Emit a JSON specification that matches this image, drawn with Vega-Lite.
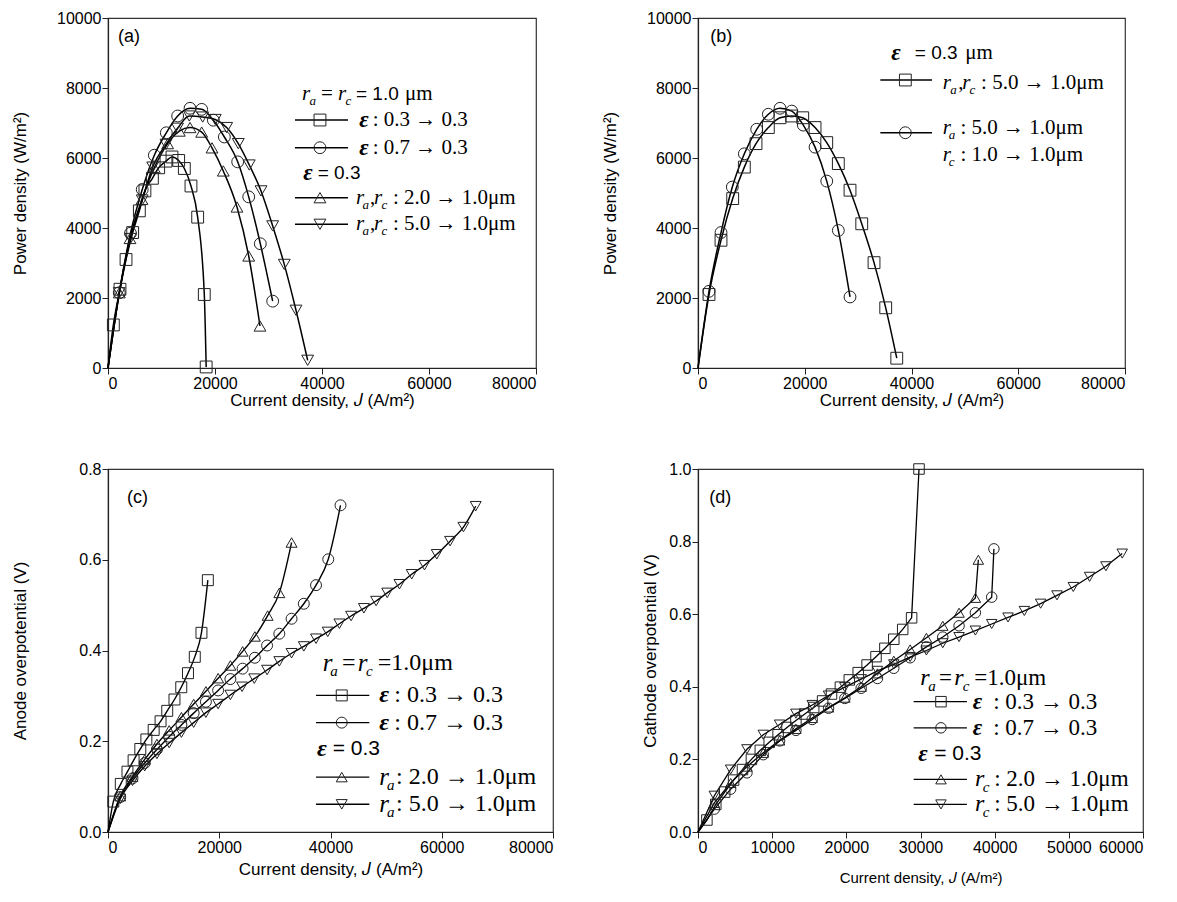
{
"$schema": "https://vega.github.io/schema/vega-lite/v6.json",
"background": "white",
"padding": {"left": 10, "top": 9, "right": 5, "bottom": 5},
"columns": 2,
"spacing": {"row": 101, "column": 145},
"bounds": "flush",
"config": {
  "view": {"stroke": "#333", "strokeWidth": 1.2},
  "axis": {"domainColor": "#222", "domainWidth": 1.2, "tickColor": "#222", "tickSize": 6, "labelPadding": 1, "labelFont": "Liberation Sans", "labelFontSize": 16, "labelColor": "#000", "titleFont": "Liberation Sans", "titleFontSize": 17, "titleFontWeight": "normal", "titleColor": "#000", "grid": false}
},
"datasets": {
  "a": [
    {"s":"sq","J":0,"v":0},{"s":"sq","J":1000,"v":1230},{"s":"sq","J":2240,"v":2250},{"s":"sq","J":3370,"v":3100},{"s":"sq","J":4610,"v":3870},{"s":"sq","J":5860,"v":4490},{"s":"sq","J":6900,"v":5060},{"s":"sq","J":8300,"v":5420},{"s":"sq","J":9470,"v":5720},{"s":"sq","J":10840,"v":5910},{"s":"sq","J":11960,"v":6030},{"s":"sq","J":13210,"v":5930},{"s":"sq","J":14270,"v":5700},{"s":"sq","J":15510,"v":5200},{"s":"sq","J":16760,"v":4310},{"s":"sq","J":18000,"v":2100},{"s":"sq","J":18350,"v":30},
    {"s":"ci","J":0,"v":0},{"s":"ci","J":2110,"v":2150},{"s":"ci","J":4200,"v":3850},{"s":"ci","J":6400,"v":5100},{"s":"ci","J":8660,"v":6080},{"s":"ci","J":10900,"v":6720},{"s":"ci","J":13020,"v":7200},{"s":"ci","J":15330,"v":7420},{"s":"ci","J":17510,"v":7390},{"s":"ci","J":19690,"v":7080},{"s":"ci","J":21750,"v":6600},{"s":"ci","J":24240,"v":5890},{"s":"ci","J":26300,"v":4890},{"s":"ci","J":28470,"v":3550},{"s":"ci","J":30780,"v":1910},
    {"s":"tu","J":0,"v":0},{"s":"tu","J":2110,"v":2150},{"s":"tu","J":4110,"v":3700},{"s":"tu","J":6350,"v":4820},{"s":"tu","J":8660,"v":5720},{"s":"tu","J":11150,"v":6410},{"s":"tu","J":13330,"v":6770},{"s":"tu","J":15330,"v":6870},{"s":"tu","J":17510,"v":6740},{"s":"tu","J":19440,"v":6290},{"s":"tu","J":21550,"v":5630},{"s":"tu","J":24110,"v":4600},{"s":"tu","J":26300,"v":3200},{"s":"tu","J":28410,"v":1200},
    {"s":"td","J":0,"v":0},{"s":"td","J":2110,"v":2150},{"s":"td","J":4200,"v":3700},{"s":"td","J":6400,"v":4800},{"s":"td","J":8350,"v":5740},{"s":"td","J":10840,"v":6390},{"s":"td","J":13000,"v":6850},{"s":"td","J":15200,"v":7200},{"s":"td","J":17700,"v":7170},{"s":"td","J":20050,"v":7100},{"s":"td","J":22180,"v":6870},{"s":"td","J":24350,"v":6410},{"s":"td","J":26410,"v":5800},{"s":"td","J":28600,"v":5060},{"s":"td","J":30780,"v":4060},{"s":"td","J":32950,"v":2960},{"s":"td","J":35140,"v":1650},{"s":"td","J":37320,"v":220}
  ],
  "aL": [
    {"s":"sq","J":34950,"v":7085,"m":0},{"s":"sq","J":39620,"v":7085,"m":1},{"s":"sq","J":44860,"v":7085,"m":0},
    {"s":"ci","J":34950,"v":6294,"m":0},{"s":"ci","J":39620,"v":6294,"m":1},{"s":"ci","J":44860,"v":6294,"m":0},
    {"s":"tu","J":34950,"v":4866,"m":0},{"s":"tu","J":39620,"v":4866,"m":1},{"s":"tu","J":44860,"v":4866,"m":0},
    {"s":"td","J":34950,"v":4106,"m":0},{"s":"td","J":39620,"v":4106,"m":1},{"s":"td","J":44860,"v":4106,"m":0}
  ],
  "aT": [
    {"k":"it","t":"r","J":36260,"v":7820},{"k":"sub","t":"a","J":37660,"v":7820},{"k":"rm","t":"=","J":39810,"v":7820},{"k":"it","t":"r","J":42990,"v":7820},{"k":"sub","t":"c","J":44390,"v":7820},{"k":"sf","t":"= 1.0","J":46350,"v":7820},{"k":"rm","t":"μm","J":55510,"v":7820},
    {"k":"eps","t":"ε","J":46970,"v":7085},{"k":"rm","t":": 0.3 → 0.3","J":49470,"v":7085},
    {"k":"eps","t":"ε","J":46970,"v":6294},{"k":"rm","t":": 0.7 → 0.3","J":49470,"v":6294},
    {"k":"eps","t":"ε","J":36500,"v":5580},{"k":"sf","t":"= 0.3","J":39190,"v":5580},
    {"k":"it","t":"r","J":46350,"v":4866},{"k":"sub","t":"a","J":47570,"v":4866},{"k":"rm","t":",","J":48970,"v":4866},{"k":"it","t":"r","J":49710,"v":4866},{"k":"sub","t":"c","J":51120,"v":4866},{"k":"rm","t":": 2.0 → 1.0μm","J":53270,"v":4866},
    {"k":"it","t":"r","J":46350,"v":4106},{"k":"sub","t":"a","J":47570,"v":4106},{"k":"rm","t":",","J":48970,"v":4106},{"k":"it","t":"r","J":49710,"v":4106},{"k":"sub","t":"c","J":51120,"v":4106},{"k":"rm","t":": 5.0 → 1.0μm","J":53270,"v":4106},
    {"k":"lab","t":"(a)","J":1870,"v":9470}
  ],
  "b": [
    {"s":"sq","J":0,"v":0},{"s":"sq","J":2060,"v":2100},{"s":"sq","J":4310,"v":3650},{"s":"sq","J":6500,"v":4840},{"s":"sq","J":8680,"v":5740},{"s":"sq","J":10870,"v":6410},{"s":"sq","J":13180,"v":6870},{"s":"sq","J":15370,"v":7150},{"s":"sq","J":17560,"v":7200},{"s":"sq","J":19620,"v":7150},{"s":"sq","J":21930,"v":6870},{"s":"sq","J":24120,"v":6440},{"s":"sq","J":26290,"v":5840},{"s":"sq","J":28480,"v":5080},{"s":"sq","J":30680,"v":4120},{"s":"sq","J":32980,"v":3010},{"s":"sq","J":35170,"v":1720},{"s":"sq","J":37240,"v":280},
    {"s":"ci","J":0,"v":0},{"s":"ci","J":2060,"v":2190},{"s":"ci","J":4310,"v":3870},{"s":"ci","J":6430,"v":5170},{"s":"ci","J":8680,"v":6120},{"s":"ci","J":11000,"v":6820},{"s":"ci","J":13180,"v":7250},{"s":"ci","J":15370,"v":7420},{"s":"ci","J":17560,"v":7340},{"s":"ci","J":19730,"v":6940},{"s":"ci","J":21930,"v":6310},{"s":"ci","J":24120,"v":5340},{"s":"ci","J":26290,"v":3930},{"s":"ci","J":28480,"v":2030}
  ],
  "bL": [
    {"s":"sq","J":34160,"v":8228,"m":0},{"s":"sq","J":38850,"v":8228,"m":1},{"s":"sq","J":43850,"v":8228,"m":0},
    {"s":"ci","J":34160,"v":6722,"m":0},{"s":"ci","J":38850,"v":6722,"m":1},{"s":"ci","J":43850,"v":6722,"m":0}
  ],
  "bT": [
    {"k":"eps","t":"ε","J":36220,"v":9008},{"k":"sf","t":"= 0.3","J":40610,"v":9008},{"k":"rm","t":"μm","J":50090,"v":9008},
    {"k":"it","t":"r","J":45850,"v":8150},{"k":"sub","t":"a","J":47280,"v":8150},{"k":"rm","t":",","J":48780,"v":8150},{"k":"it","t":"r","J":49530,"v":8150},{"k":"sub","t":"c","J":50880,"v":8150},{"k":"rm","t":": 5.0 → 1.0μm","J":53030,"v":8150},
    {"k":"it","t":"r","J":45850,"v":6865},{"k":"sub","t":"a","J":46980,"v":6865},{"k":"rm","t":": 5.0 → 1.0μm","J":49160,"v":6865},
    {"k":"it","t":"r","J":45850,"v":6085},{"k":"sub","t":"c","J":46980,"v":6085},{"k":"rm","t":": 1.0 → 1.0μm","J":49160,"v":6085},
    {"k":"lab","t":"(b)","J":2310,"v":9470}
  ],
  "c": [
    {"s":"sq","J":0,"v":0},{"s":"sq","J":960,"v":0.067},{"s":"sq","J":2300,"v":0.106},{"s":"sq","J":3500,"v":0.133},{"s":"sq","J":4600,"v":0.158},{"s":"sq","J":5810,"v":0.183},{"s":"sq","J":6900,"v":0.204},{"s":"sq","J":8210,"v":0.225},{"s":"sq","J":9450,"v":0.244},{"s":"sq","J":10650,"v":0.267},{"s":"sq","J":11950,"v":0.292},{"s":"sq","J":13170,"v":0.319},{"s":"sq","J":14380,"v":0.35},{"s":"sq","J":15600,"v":0.386},{"s":"sq","J":16800,"v":0.439},{"s":"sq","J":17950,"v":0.555},
    {"s":"ci","J":0,"v":0},{"s":"ci","J":2200,"v":0.077},{"s":"ci","J":4400,"v":0.118},{"s":"ci","J":6600,"v":0.152},{"s":"ci","J":8800,"v":0.182},{"s":"ci","J":11000,"v":0.21},{"s":"ci","J":13200,"v":0.236},{"s":"ci","J":15400,"v":0.262},{"s":"ci","J":17600,"v":0.287},{"s":"ci","J":19800,"v":0.312},{"s":"ci","J":22000,"v":0.337},{"s":"ci","J":24200,"v":0.36},{"s":"ci","J":26400,"v":0.384},{"s":"ci","J":28600,"v":0.411},{"s":"ci","J":30800,"v":0.437},{"s":"ci","J":33000,"v":0.47},{"s":"ci","J":35200,"v":0.503},{"s":"ci","J":37400,"v":0.544},{"s":"ci","J":39600,"v":0.601},{"s":"ci","J":41800,"v":0.72},
    {"s":"tu","J":0,"v":0},{"s":"tu","J":2200,"v":0.079},{"s":"tu","J":4400,"v":0.122},{"s":"tu","J":6600,"v":0.16},{"s":"tu","J":8800,"v":0.194},{"s":"tu","J":11000,"v":0.224},{"s":"tu","J":13200,"v":0.253},{"s":"tu","J":15400,"v":0.282},{"s":"tu","J":17600,"v":0.31},{"s":"tu","J":19800,"v":0.339},{"s":"tu","J":22000,"v":0.367},{"s":"tu","J":24200,"v":0.398},{"s":"tu","J":26400,"v":0.431},{"s":"tu","J":28700,"v":0.477},{"s":"tu","J":30800,"v":0.527},{"s":"tu","J":33000,"v":0.638},
    {"s":"td","J":0,"v":0},{"s":"td","J":2200,"v":0.073},{"s":"td","J":4400,"v":0.113},{"s":"td","J":6600,"v":0.145},{"s":"td","J":8800,"v":0.172},{"s":"td","J":11000,"v":0.196},{"s":"td","J":13200,"v":0.219},{"s":"td","J":15400,"v":0.241},{"s":"td","J":17600,"v":0.263},{"s":"td","J":19800,"v":0.282},{"s":"td","J":22000,"v":0.302},{"s":"td","J":24100,"v":0.32},{"s":"td","J":26300,"v":0.338},{"s":"td","J":28600,"v":0.357},{"s":"td","J":30800,"v":0.376},{"s":"td","J":33000,"v":0.394},{"s":"td","J":35200,"v":0.409},{"s":"td","J":37400,"v":0.426},{"s":"td","J":39500,"v":0.441},{"s":"td","J":41600,"v":0.459},{"s":"td","J":43700,"v":0.476},{"s":"td","J":46000,"v":0.493},{"s":"td","J":48200,"v":0.509},{"s":"td","J":50200,"v":0.527},{"s":"td","J":52400,"v":0.546},{"s":"td","J":54600,"v":0.568},{"s":"td","J":56900,"v":0.588},{"s":"td","J":59100,"v":0.612},{"s":"td","J":61500,"v":0.641},{"s":"td","J":63900,"v":0.672},{"s":"td","J":66100,"v":0.718}
  ],
  "cL": [
    {"s":"sq","J":37400,"v":0.301,"m":0},{"s":"sq","J":42020,"v":0.301,"m":1},{"s":"sq","J":46980,"v":0.301,"m":0},
    {"s":"ci","J":37400,"v":0.241,"m":0},{"s":"ci","J":42020,"v":0.241,"m":1},{"s":"ci","J":46980,"v":0.241,"m":0},
    {"s":"tu","J":37400,"v":0.121,"m":0},{"s":"tu","J":42020,"v":0.121,"m":1},{"s":"tu","J":46980,"v":0.121,"m":0},
    {"s":"td","J":37400,"v":0.061,"m":0},{"s":"td","J":42020,"v":0.061,"m":1},{"s":"td","J":46980,"v":0.061,"m":0}
  ],
  "cT": [
    {"k":"it","t":"r","J":38600,"v":0.373},{"k":"sub","t":"a","J":39970,"v":0.373},{"k":"rm","t":"=","J":42080,"v":0.373},{"k":"it","t":"r","J":44900,"v":0.373},{"k":"sub","t":"c","J":46390,"v":0.373},{"k":"rm","t":"=1.0μm","J":48490,"v":0.373},
    {"k":"eps","t":"ε","J":48780,"v":0.301},{"k":"rm","t":": 0.3 → 0.3","J":51480,"v":0.301},
    {"k":"eps","t":"ε","J":48780,"v":0.241},{"k":"rm","t":": 0.7 → 0.3","J":51480,"v":0.241},
    {"k":"eps","t":"ε","J":37580,"v":0.182},{"k":"sf","t":"= 0.3","J":40400,"v":0.182},
    {"k":"it","t":"r","J":48780,"v":0.121},{"k":"sub","t":"a","J":50160,"v":0.121},{"k":"rm","t":": 2.0 → 1.0μm","J":51780,"v":0.121},
    {"k":"it","t":"r","J":48780,"v":0.061},{"k":"sub","t":"a","J":50160,"v":0.061},{"k":"rm","t":": 5.0 → 1.0μm","J":51780,"v":0.061},
    {"k":"lab","t":"(c)","J":3420,"v":0.737}
  ],
  "d": [
    {"s":"sq","J":0,"v":0},{"s":"sq","J":1200,"v":0.033},{"s":"sq","J":2400,"v":0.076},{"s":"sq","J":3600,"v":0.11},{"s":"sq","J":4800,"v":0.143},{"s":"sq","J":6000,"v":0.172},{"s":"sq","J":7200,"v":0.2},{"s":"sq","J":8400,"v":0.225},{"s":"sq","J":9600,"v":0.247},{"s":"sq","J":10800,"v":0.268},{"s":"sq","J":12000,"v":0.288},{"s":"sq","J":13200,"v":0.307},{"s":"sq","J":14400,"v":0.325},{"s":"sq","J":15600,"v":0.343},{"s":"sq","J":16800,"v":0.361},{"s":"sq","J":18000,"v":0.38},{"s":"sq","J":19200,"v":0.399},{"s":"sq","J":20400,"v":0.419},{"s":"sq","J":21600,"v":0.439},{"s":"sq","J":22800,"v":0.46},{"s":"sq","J":24000,"v":0.483},{"s":"sq","J":25200,"v":0.506},{"s":"sq","J":26400,"v":0.531},{"s":"sq","J":27600,"v":0.558},{"s":"sq","J":28800,"v":0.59},{"s":"sq","J":29800,"v":1.0},
    {"s":"ci","J":0,"v":0},{"s":"ci","J":2200,"v":0.063},{"s":"ci","J":4400,"v":0.118},{"s":"ci","J":6600,"v":0.163},{"s":"ci","J":8800,"v":0.213},{"s":"ci","J":11000,"v":0.251},{"s":"ci","J":13200,"v":0.28},{"s":"ci","J":15400,"v":0.31},{"s":"ci","J":17600,"v":0.341},{"s":"ci","J":19800,"v":0.368},{"s":"ci","J":22000,"v":0.396},{"s":"ci","J":24200,"v":0.423},{"s":"ci","J":26400,"v":0.451},{"s":"ci","J":28600,"v":0.48},{"s":"ci","J":30800,"v":0.51},{"s":"ci","J":33000,"v":0.537},{"s":"ci","J":35200,"v":0.568},{"s":"ci","J":37400,"v":0.604},{"s":"ci","J":39600,"v":0.647},{"s":"ci","J":39900,"v":0.78},
    {"s":"tu","J":0,"v":0},{"s":"tu","J":2200,"v":0.08},{"s":"tu","J":4400,"v":0.135},{"s":"tu","J":6600,"v":0.18},{"s":"tu","J":8800,"v":0.218},{"s":"tu","J":11000,"v":0.252},{"s":"tu","J":13200,"v":0.284},{"s":"tu","J":15400,"v":0.314},{"s":"tu","J":17600,"v":0.343},{"s":"tu","J":19800,"v":0.37},{"s":"tu","J":22000,"v":0.4},{"s":"tu","J":24200,"v":0.437},{"s":"tu","J":26400,"v":0.472},{"s":"tu","J":28600,"v":0.503},{"s":"tu","J":30800,"v":0.535},{"s":"tu","J":33000,"v":0.568},{"s":"tu","J":35200,"v":0.604},{"s":"tu","J":37400,"v":0.645},{"s":"tu","J":37800,"v":0.75},
    {"s":"td","J":0,"v":0},{"s":"td","J":2200,"v":0.1},{"s":"td","J":4400,"v":0.172},{"s":"td","J":6600,"v":0.228},{"s":"td","J":8800,"v":0.268},{"s":"td","J":11000,"v":0.296},{"s":"td","J":13200,"v":0.326},{"s":"td","J":15400,"v":0.35},{"s":"td","J":17600,"v":0.376},{"s":"td","J":19800,"v":0.399},{"s":"td","J":22000,"v":0.421},{"s":"td","J":24200,"v":0.444},{"s":"td","J":26400,"v":0.462},{"s":"td","J":28600,"v":0.482},{"s":"td","J":30800,"v":0.5},{"s":"td","J":33000,"v":0.52},{"s":"td","J":35200,"v":0.537},{"s":"td","J":37400,"v":0.555},{"s":"td","J":39600,"v":0.573},{"s":"td","J":41800,"v":0.591},{"s":"td","J":44000,"v":0.609},{"s":"td","J":46200,"v":0.629},{"s":"td","J":48400,"v":0.652},{"s":"td","J":50600,"v":0.675},{"s":"td","J":52800,"v":0.703},{"s":"td","J":55000,"v":0.732},{"s":"td","J":57200,"v":0.767}
  ],
  "dL": [
    {"s":"sq","J":29080,"v":0.359,"m":0},{"s":"sq","J":32760,"v":0.359,"m":1},{"s":"sq","J":36260,"v":0.359,"m":0},
    {"s":"ci","J":29080,"v":0.287,"m":0},{"s":"ci","J":32760,"v":0.287,"m":1},{"s":"ci","J":36260,"v":0.287,"m":0},
    {"s":"tu","J":29080,"v":0.145,"m":0},{"s":"tu","J":32760,"v":0.145,"m":1},{"s":"tu","J":36260,"v":0.145,"m":0},
    {"s":"td","J":29080,"v":0.076,"m":0},{"s":"td","J":32760,"v":0.076,"m":1},{"s":"td","J":36260,"v":0.076,"m":0}
  ],
  "dT": [
    {"k":"it","t":"r","J":29970,"v":0.425},{"k":"sub","t":"a","J":31050,"v":0.425},{"k":"rm","t":"=","J":32490,"v":0.425},{"k":"it","t":"r","J":34550,"v":0.425},{"k":"sub","t":"c","J":35680,"v":0.425},{"k":"rm","t":"=1.0μm","J":37250,"v":0.425},
    {"k":"eps","t":"ε","J":37050,"v":0.359},{"k":"rm","t":": 0.3 → 0.3","J":39800,"v":0.359},
    {"k":"eps","t":"ε","J":37050,"v":0.287},{"k":"rm","t":": 0.7 → 0.3","J":39800,"v":0.287},
    {"k":"eps","t":"ε","J":29700,"v":0.214},{"k":"sf","t":"= 0.3","J":31850,"v":0.214},
    {"k":"it","t":"r","J":37340,"v":0.145},{"k":"sub","t":"c","J":38380,"v":0.145},{"k":"rm","t":": 2.0 → 1.0μm","J":39940,"v":0.145},
    {"k":"it","t":"r","J":37340,"v":0.076},{"k":"sub","t":"c","J":38380,"v":0.076},{"k":"rm","t":": 5.0 → 1.0μm","J":39940,"v":0.076},
    {"k":"lab","t":"(d)","J":1520,"v":0.921}
  ]
},
"concat": [
  {
    "width": 428, "height": 350,
    "encoding": {
      "x": {"field": "J", "type": "quantitative", "scale": {"domain": [0, 80000], "nice": false}, "axis": {"title": "Current density, 𝐽 (A/m²)", "values": [0, 20000, 40000, 60000, 80000], "format": "d", "titleY": 32, "titleBaseline": "middle"}},
      "y": {"field": "v", "type": "quantitative", "scale": {"domain": [0, 10000], "nice": false}, "axis": {"title": "Power density (W/m²)", "values": [0, 2000, 4000, 6000, 8000, 10000], "format": "d", "titleX": -88, "titleBaseline": "middle"}}
    },
    "layer": [
      {"data": {"name": "a"}, "mark": {"type": "line", "interpolate": "monotone", "color": "#000", "strokeWidth": 1.5}, "encoding": {"detail": {"field": "s"}}},
      {"data": {"name": "a"}, "transform": [{"filter": "datum.J > 0"}], "mark": {"type": "point", "filled": false, "color": "#222", "size": 140, "strokeWidth": 1, "opacity": 1}, "encoding": {"shape": {"field": "s", "type": "nominal", "scale": {"domain": ["sq", "ci", "tu", "td"], "range": ["square", "circle", "triangle-up", "triangle-down"]}, "legend": null}}},
      {"data": {"name": "aL"}, "mark": {"type": "line", "color": "#000", "strokeWidth": 1.5}, "encoding": {"detail": {"field": "s"}}},
      {"data": {"name": "aL"}, "transform": [{"filter": "datum.m == 1"}], "mark": {"type": "point", "filled": false, "color": "#222", "size": 140, "strokeWidth": 1, "opacity": 1}, "encoding": {"shape": {"field": "s", "type": "nominal", "legend": null}}},
      {"data": {"name": "aT"}, "transform": [{"filter": "datum.k == 'it'"}], "mark": {"type": "text", "font": "Liberation Serif", "fontStyle": "italic", "fontSize": 21, "align": "left", "baseline": "middle", "color": "#000"}, "encoding": {"text": {"field": "t"}}},
      {"data": {"name": "aT"}, "transform": [{"filter": "datum.k == 'sub'"}], "mark": {"type": "text", "font": "Liberation Serif", "fontStyle": "italic", "fontSize": 13, "dy": 7, "align": "left", "baseline": "middle", "color": "#000"}, "encoding": {"text": {"field": "t"}}},
      {"data": {"name": "aT"}, "transform": [{"filter": "datum.k == 'rm'"}], "mark": {"type": "text", "font": "Liberation Serif", "fontSize": 21, "align": "left", "baseline": "middle", "color": "#000"}, "encoding": {"text": {"field": "t"}}},
      {"data": {"name": "aT"}, "transform": [{"filter": "datum.k == 'sf'"}], "mark": {"type": "text", "font": "Liberation Sans", "fontSize": 19, "align": "left", "baseline": "middle", "color": "#000"}, "encoding": {"text": {"field": "t"}}},
      {"data": {"name": "aT"}, "transform": [{"filter": "datum.k == 'eps'"}], "mark": {"type": "text", "font": "Liberation Serif", "fontStyle": "italic", "fontWeight": "bold", "fontSize": 23, "align": "left", "baseline": "middle", "color": "#000"}, "encoding": {"text": {"field": "t"}}},
      {"data": {"name": "aT"}, "transform": [{"filter": "datum.k == 'lab'"}], "mark": {"type": "text", "font": "Liberation Sans", "fontSize": 18, "align": "left", "baseline": "middle", "color": "#000"}, "encoding": {"text": {"field": "t"}}}
    ]
  },
  {
    "width": 427, "height": 350,
    "encoding": {
      "x": {"field": "J", "type": "quantitative", "scale": {"domain": [0, 80000], "nice": false}, "axis": {"title": "Current density, 𝐽 (A/m²)", "values": [0, 20000, 40000, 60000, 80000], "format": "d", "titleY": 32, "titleBaseline": "middle"}},
      "y": {"field": "v", "type": "quantitative", "scale": {"domain": [0, 10000], "nice": false}, "axis": {"title": "Power density (W/m²)", "values": [0, 2000, 4000, 6000, 8000, 10000], "format": "d", "titleX": -88, "titleBaseline": "middle"}}
    },
    "layer": [
      {"data": {"name": "b"}, "mark": {"type": "line", "interpolate": "monotone", "color": "#000", "strokeWidth": 1.5}, "encoding": {"detail": {"field": "s"}}},
      {"data": {"name": "b"}, "transform": [{"filter": "datum.J > 0"}], "mark": {"type": "point", "filled": false, "color": "#222", "size": 140, "strokeWidth": 1, "opacity": 1}, "encoding": {"shape": {"field": "s", "type": "nominal", "scale": {"domain": ["sq", "ci", "tu", "td"], "range": ["square", "circle", "triangle-up", "triangle-down"]}, "legend": null}}},
      {"data": {"name": "bL"}, "mark": {"type": "line", "color": "#000", "strokeWidth": 1.5}, "encoding": {"detail": {"field": "s"}}},
      {"data": {"name": "bL"}, "transform": [{"filter": "datum.m == 1"}], "mark": {"type": "point", "filled": false, "color": "#222", "size": 140, "strokeWidth": 1, "opacity": 1}, "encoding": {"shape": {"field": "s", "type": "nominal", "legend": null}}},
      {"data": {"name": "bT"}, "transform": [{"filter": "datum.k == 'it'"}], "mark": {"type": "text", "font": "Liberation Serif", "fontStyle": "italic", "fontSize": 21, "align": "left", "baseline": "middle", "color": "#000"}, "encoding": {"text": {"field": "t"}}},
      {"data": {"name": "bT"}, "transform": [{"filter": "datum.k == 'sub'"}], "mark": {"type": "text", "font": "Liberation Serif", "fontStyle": "italic", "fontSize": 13, "dy": 7, "align": "left", "baseline": "middle", "color": "#000"}, "encoding": {"text": {"field": "t"}}},
      {"data": {"name": "bT"}, "transform": [{"filter": "datum.k == 'rm'"}], "mark": {"type": "text", "font": "Liberation Serif", "fontSize": 21, "align": "left", "baseline": "middle", "color": "#000"}, "encoding": {"text": {"field": "t"}}},
      {"data": {"name": "bT"}, "transform": [{"filter": "datum.k == 'sf'"}], "mark": {"type": "text", "font": "Liberation Sans", "fontSize": 19, "align": "left", "baseline": "middle", "color": "#000"}, "encoding": {"text": {"field": "t"}}},
      {"data": {"name": "bT"}, "transform": [{"filter": "datum.k == 'eps'"}], "mark": {"type": "text", "font": "Liberation Serif", "fontStyle": "italic", "fontWeight": "bold", "fontSize": 23, "align": "left", "baseline": "middle", "color": "#000"}, "encoding": {"text": {"field": "t"}}},
      {"data": {"name": "bT"}, "transform": [{"filter": "datum.k == 'lab'"}], "mark": {"type": "text", "font": "Liberation Sans", "fontSize": 18, "align": "left", "baseline": "middle", "color": "#000"}, "encoding": {"text": {"field": "t"}}}
    ]
  },
  {
    "width": 445, "height": 363,
    "encoding": {
      "x": {"field": "J", "type": "quantitative", "scale": {"domain": [0, 80000], "nice": false}, "axis": {"title": "Current density, 𝐽 (A/m²)", "values": [0, 20000, 40000, 60000, 80000], "format": "d", "titleY": 37, "titleBaseline": "middle"}},
      "y": {"field": "v", "type": "quantitative", "scale": {"domain": [0, 0.8], "nice": false}, "axis": {"title": "Anode overpotential (V)", "values": [0, 0.2, 0.4, 0.6, 0.8], "format": ".1f", "titleX": -88, "titleBaseline": "middle"}}
    },
    "layer": [
      {"data": {"name": "c"}, "mark": {"type": "line", "interpolate": "monotone", "color": "#000", "strokeWidth": 1.4}, "encoding": {"detail": {"field": "s"}}},
      {"data": {"name": "c"}, "transform": [{"filter": "datum.J > 0"}], "mark": {"type": "point", "filled": false, "color": "#222", "size": 120, "strokeWidth": 1, "opacity": 1}, "encoding": {"shape": {"field": "s", "type": "nominal", "scale": {"domain": ["sq", "ci", "tu", "td"], "range": ["square", "circle", "triangle-up", "triangle-down"]}, "legend": null}}},
      {"data": {"name": "cL"}, "mark": {"type": "line", "color": "#000", "strokeWidth": 1.4}, "encoding": {"detail": {"field": "s"}}},
      {"data": {"name": "cL"}, "transform": [{"filter": "datum.m == 1"}], "mark": {"type": "point", "filled": false, "color": "#222", "size": 120, "strokeWidth": 1, "opacity": 1}, "encoding": {"shape": {"field": "s", "type": "nominal", "legend": null}}},
      {"data": {"name": "cT"}, "transform": [{"filter": "datum.k == 'it'"}], "mark": {"type": "text", "font": "Liberation Serif", "fontStyle": "italic", "fontSize": 25, "align": "left", "baseline": "middle", "color": "#000"}, "encoding": {"text": {"field": "t"}}},
      {"data": {"name": "cT"}, "transform": [{"filter": "datum.k == 'sub'"}], "mark": {"type": "text", "font": "Liberation Serif", "fontStyle": "italic", "fontSize": 15, "dy": 8, "align": "left", "baseline": "middle", "color": "#000"}, "encoding": {"text": {"field": "t"}}},
      {"data": {"name": "cT"}, "transform": [{"filter": "datum.k == 'rm'"}], "mark": {"type": "text", "font": "Liberation Serif", "fontSize": 24, "align": "left", "baseline": "middle", "color": "#000"}, "encoding": {"text": {"field": "t"}}},
      {"data": {"name": "cT"}, "transform": [{"filter": "datum.k == 'sf'"}], "mark": {"type": "text", "font": "Liberation Sans", "fontSize": 21, "align": "left", "baseline": "middle", "color": "#000"}, "encoding": {"text": {"field": "t"}}},
      {"data": {"name": "cT"}, "transform": [{"filter": "datum.k == 'eps'"}], "mark": {"type": "text", "font": "Liberation Serif", "fontStyle": "italic", "fontWeight": "bold", "fontSize": 24, "align": "left", "baseline": "middle", "color": "#000"}, "encoding": {"text": {"field": "t"}}},
      {"data": {"name": "cT"}, "transform": [{"filter": "datum.k == 'lab'"}], "mark": {"type": "text", "font": "Liberation Sans", "fontSize": 18, "align": "left", "baseline": "middle", "color": "#000"}, "encoding": {"text": {"field": "t"}}}
    ]
  },
  {
    "width": 445, "height": 363,
    "encoding": {
      "x": {"field": "J", "type": "quantitative", "scale": {"domain": [0, 60000], "nice": false}, "axis": {"title": "Current density, 𝐽 (A/m²)", "titleFontSize": 15, "values": [0, 10000, 20000, 30000, 40000, 50000, 60000], "format": "d", "titleY": 45, "titleBaseline": "middle"}},
      "y": {"field": "v", "type": "quantitative", "scale": {"domain": [0, 1], "nice": false}, "axis": {"title": "Cathode overpotential (V)", "values": [0, 0.2, 0.4, 0.6, 0.8, 1.0], "format": ".1f", "titleX": -48, "titleBaseline": "middle"}}
    },
    "layer": [
      {"data": {"name": "d"}, "mark": {"type": "line", "color": "#000", "strokeWidth": 1.3}, "encoding": {"detail": {"field": "s"}}},
      {"data": {"name": "d"}, "transform": [{"filter": "datum.J > 0"}], "mark": {"type": "point", "filled": false, "color": "#222", "size": 110, "strokeWidth": 1, "opacity": 1}, "encoding": {"shape": {"field": "s", "type": "nominal", "scale": {"domain": ["sq", "ci", "tu", "td"], "range": ["square", "circle", "triangle-up", "triangle-down"]}, "legend": null}}},
      {"data": {"name": "dL"}, "mark": {"type": "line", "color": "#000", "strokeWidth": 1.3}, "encoding": {"detail": {"field": "s"}}},
      {"data": {"name": "dL"}, "transform": [{"filter": "datum.m == 1"}], "mark": {"type": "point", "filled": false, "color": "#222", "size": 110, "strokeWidth": 1, "opacity": 1}, "encoding": {"shape": {"field": "s", "type": "nominal", "legend": null}}},
      {"data": {"name": "dT"}, "transform": [{"filter": "datum.k == 'it'"}], "mark": {"type": "text", "font": "Liberation Serif", "fontStyle": "italic", "fontSize": 24, "align": "left", "baseline": "middle", "color": "#000"}, "encoding": {"text": {"field": "t"}}},
      {"data": {"name": "dT"}, "transform": [{"filter": "datum.k == 'sub'"}], "mark": {"type": "text", "font": "Liberation Serif", "fontStyle": "italic", "fontSize": 15, "dy": 8, "align": "left", "baseline": "middle", "color": "#000"}, "encoding": {"text": {"field": "t"}}},
      {"data": {"name": "dT"}, "transform": [{"filter": "datum.k == 'rm'"}], "mark": {"type": "text", "font": "Liberation Serif", "fontSize": 23, "align": "left", "baseline": "middle", "color": "#000"}, "encoding": {"text": {"field": "t"}}},
      {"data": {"name": "dT"}, "transform": [{"filter": "datum.k == 'sf'"}], "mark": {"type": "text", "font": "Liberation Sans", "fontSize": 21, "align": "left", "baseline": "middle", "color": "#000"}, "encoding": {"text": {"field": "t"}}},
      {"data": {"name": "dT"}, "transform": [{"filter": "datum.k == 'eps'"}], "mark": {"type": "text", "font": "Liberation Serif", "fontStyle": "italic", "fontWeight": "bold", "fontSize": 23, "align": "left", "baseline": "middle", "color": "#000"}, "encoding": {"text": {"field": "t"}}},
      {"data": {"name": "dT"}, "transform": [{"filter": "datum.k == 'lab'"}], "mark": {"type": "text", "font": "Liberation Sans", "fontSize": 18, "align": "left", "baseline": "middle", "color": "#000"}, "encoding": {"text": {"field": "t"}}}
    ]
  }
]
}
